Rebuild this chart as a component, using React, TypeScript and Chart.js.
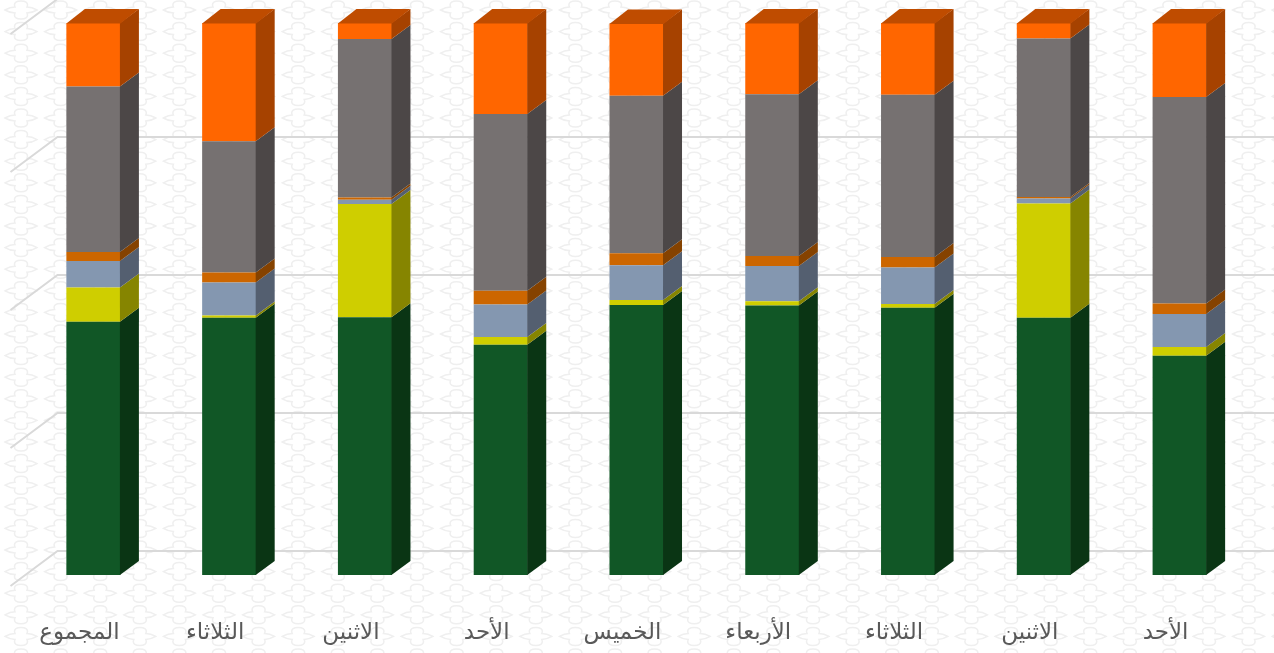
import React, { useEffect, useRef } from "react";
import { Chart, registerables } from "chart.js";

Chart.register(...registerables);

const categories = ["الأحد", "الاثنين", "الثلاثاء", "الأربعاء", "الخميس", "الأحد", "الاثنين", "الثلاثاء", "المجموع"];

const seriesGreen = [39.7, 46.6, 48.4, 48.8, 48.9, 41.7, 46.7, 46.6, 45.9];
const seriesYellow = [1.6, 20.7, 0.7, 0.8, 0.9, 1.4, 20.5, 0.4, 6.2];
const seriesBlue = [6.0, 0.9, 6.6, 6.4, 6.3, 5.9, 0.8, 6.0, 4.8];
const seriesAmber = [1.9, 0.3, 1.9, 1.8, 2.2, 2.5, 0.4, 1.8, 1.6];
const seriesGray = [37.4, 28.7, 29.4, 29.3, 28.5, 32.0, 28.7, 23.8, 30.0];
const seriesOrange = [13.4, 2.8, 13.0, 12.9, 13.1, 16.5, 2.9, 21.4, 11.5];

const frontColors = ["#115726", "#cfce00", "#8497b0", "#cc6600", "#767171", "#ff6600"];
const sideColors = ["#0a3514", "#868500", "#545f70", "#854200", "#4c4747", "#a64200"];
const topColor = "#bf4c00";
const gridColor = "#d9d9d9";
const tileColor = "#efefef";

const DEPTH_X = 18.5;
const DEPTH_Y = 14;

const backdrop = {
  id: "backdrop",
  beforeDraw(chart: any) {
    const { ctx, width, height } = chart;
    ctx.save();
    ctx.fillStyle = "#ffffff";
    ctx.fillRect(0, 0, width, height);
    ctx.strokeStyle = tileColor;
    ctx.lineWidth = 1.5;
    ctx.filter = "blur(0.5px)";
    const stepX = 39.6;
    const stepY = 21.6;
    ctx.beginPath();
    for (let cy = -11.6; cy < height + stepY; cy += stepY) {
      for (let cx = 21 - stepX; cx < width + stepX; cx += stepX) {
        const px = (dx: number) => cx + dx;
        const py = (dy: number) => cy + dy;
        ctx.moveTo(px(-16), py(0));
        ctx.quadraticCurveTo(px(-11), py(-3), px(-6), py(-3));
        ctx.bezierCurveTo(px(-8), py(-8), px(-3.5), py(-9), px(0), py(-9));
        ctx.bezierCurveTo(px(3.5), py(-9), px(8), py(-8), px(6), py(-3));
        ctx.quadraticCurveTo(px(11), py(-3), px(16), py(0));
        ctx.quadraticCurveTo(px(11), py(3), px(6), py(3));
        ctx.bezierCurveTo(px(8), py(8), px(3.5), py(9), px(0), py(9));
        ctx.bezierCurveTo(px(-3.5), py(9), px(-8), py(8), px(-6), py(3));
        ctx.quadraticCurveTo(px(-11), py(3), px(-16), py(0));
        ctx.closePath();
      }
    }
    ctx.stroke();
    ctx.restore();
  },
};

const wallGrid = {
  id: "wallGrid",
  beforeDatasetsDraw(chart: any) {
    const { ctx, width, chartArea, scales } = chart;
    const frontX = chartArea.left - 15;
    const backX = chartArea.left + 32;
    ctx.save();
    ctx.strokeStyle = gridColor;
    ctx.lineWidth = 2;
    ctx.filter = "blur(0.4px)";
    scales.y.ticks.forEach((t: any) => {
      const y = scales.y.getPixelForValue(t.value);
      ctx.beginPath();
      ctx.moveTo(frontX, y + 11);
      ctx.lineTo(backX, y - 24);
      ctx.lineTo(width, y - 24);
      ctx.stroke();
    });
    ctx.restore();
  },
};

const bar3d = {
  id: "bar3d",
  afterDatasetsDraw(chart: any) {
    const { ctx } = chart;
    const last = chart.data.datasets.length - 1;
    ctx.save();
    chart.data.datasets.forEach((_: any, di: number) => {
      chart.getDatasetMeta(di).data.forEach((el: any) => {
        const { x, y, base, width } = el.getProps(["x", "y", "base", "width"], true);
        const r = x + width / 2;
        const l = x - width / 2;
        ctx.fillStyle = sideColors[di];
        ctx.beginPath();
        ctx.moveTo(r - 0.5, y);
        ctx.lineTo(r + DEPTH_X, y - DEPTH_Y);
        ctx.lineTo(r + DEPTH_X, base - DEPTH_Y);
        ctx.lineTo(r - 0.5, base);
        ctx.closePath();
        ctx.fill();
        if (di === last) {
          ctx.fillStyle = topColor;
          ctx.beginPath();
          ctx.moveTo(l, y + 0.5);
          ctx.lineTo(l + DEPTH_X, y - DEPTH_Y);
          ctx.lineTo(r + DEPTH_X, y - DEPTH_Y);
          ctx.lineTo(r, y + 0.5);
          ctx.closePath();
          ctx.fill();
        }
      });
    });
    ctx.restore();
  },
};

export default function App() {
  const ref = useRef<HTMLCanvasElement>(null);
  useEffect(() => {
    document.body.style.margin = "0";
    const series = [seriesGreen, seriesYellow, seriesBlue, seriesAmber, seriesGray, seriesOrange];
    const chart = new Chart(ref.current as HTMLCanvasElement, {
      type: "bar",
      data: {
        labels: categories,
        datasets: series.map((data, i) => ({
          data,
          backgroundColor: frontColors[i],
          borderWidth: 0,
          barPercentage: 0.398,
          categoryPercentage: 1,
        })),
      },
      options: {
        responsive: false,
        animation: false,
        layout: { padding: { left: 25.5, right: 26.5, top: 23, bottom: 0 } },
        plugins: { legend: { display: false }, tooltip: { enabled: false }, title: { display: false } },
        scales: {
          x: {
            stacked: true,
            reverse: true,
            grid: { display: false },
            border: { display: false },
            afterFit: (s: any) => { s.height = 78; },
            ticks: {
              maxRotation: 0,
              autoSkip: false,
              padding: 36,
              labelOffset: -14,
              color: "#595959",
              font: { family: '"DejaVu Sans"', size: 23 },
            },
          },
          y: {
            stacked: true,
            min: 0,
            max: 100,
            afterFit: (s: any) => { s.width = 0; },
            grid: { display: false },
            border: { display: false },
            ticks: { stepSize: 25, display: false },
          },
        },
      } as any,
      plugins: [backdrop, wallGrid, bar3d],
    });
    return () => chart.destroy();
  }, []);
  return <canvas ref={ref} width={1274} height={653} style={{ display: "block" }} />;
}
